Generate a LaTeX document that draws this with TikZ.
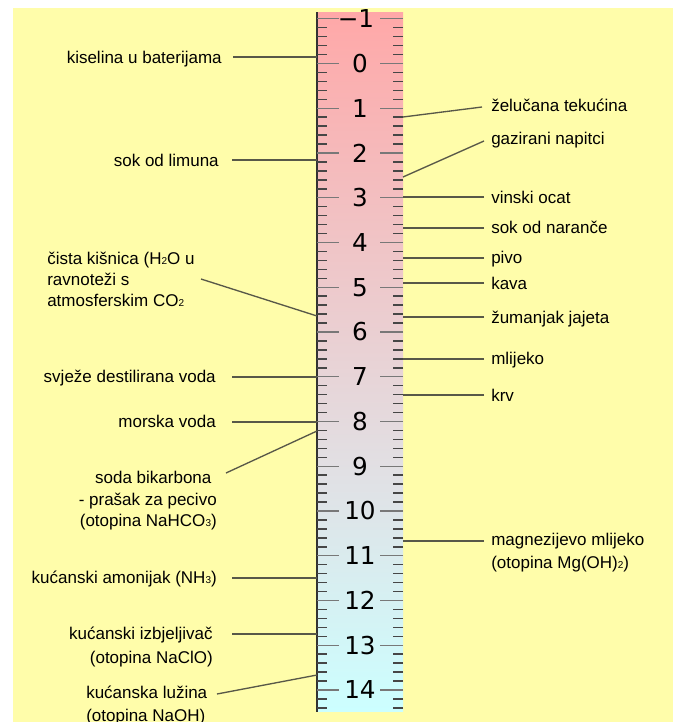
\documentclass[tikz,border=0pt]{standalone}
\usepackage{fontspec}
\setmainfont{Liberation Sans}
\newfontfamily\numfont{DejaVu Sans}
\definecolor{bgyellow}{RGB}{255,253,170}
\definecolor{phpink}{RGB}{255,168,168}
\definecolor{phgray}{RGB}{224,226,230}
\definecolor{phcyan}{RGB}{204,255,255}
\definecolor{leader}{RGB}{88,88,72}
\definecolor{tickmin}{RGB}{70,70,70}
\definecolor{tickmaj}{RGB}{120,120,120}
\pgfdeclareverticalshading{phbar}{100bp}{color(0bp)=(phcyan); color(25bp)=(phcyan); color(41bp)=(phgray); color(75bp)=(phpink); color(100bp)=(phpink)}
\newcommand\sbs[1]{{\fontsize{7.5pt}{7.5pt}\selectfont #1}}
\tikzset{
  lbl/.style={font=\fontsize{12.75pt}{16.5pt}\selectfont, inner sep=0pt, text=black, yshift=-1.5pt},
  num/.style={font=\numfont\fontsize{18.5pt}{20pt}\selectfont, inner sep=0pt, text=black},
  ldr/.style={draw=leader, line width=1pt},
  tmin/.style={draw=tickmin, line width=1.1pt},
  tmaj/.style={draw=tickmaj, line width=1.1pt}
}
\begin{document}
\begin{tikzpicture}[x=0.75pt,y=-0.75pt]
\useasboundingbox (0,0) rectangle (676,722);
\fill[bgyellow] (13,8) rectangle (673,722);
\shade[shading=phbar] (317,12) rectangle (403,711);
\draw[black!80, line width=0.9pt] (317,12) -- (317,712);
% ticks
\foreach \k in {-5,...,72}{
  \pgfmathsetmacro\yy{63.5+8.95*\k}
  \pgfmathtruncatemacro\m{mod(\k+5,5)}
  \ifnum\m=0
    \draw[tmaj] (317,\yy) -- ++(22,0);
    \draw[tmaj] (403,\yy) -- ++(-23,0);
  \else
    \draw[tmin] (317,\yy) -- ++(10,0);
    \draw[tmin] (403,\yy) -- ++(-10,0);
  \fi
}
% numbers
\node[num] (nm1) at (356,18.75) {−1};
\foreach \n in {0,...,14}{
  \node[num] (n\n) at (360,{63.5+44.75*\n}) {\n};
}
% left labels
\node[lbl, anchor=north east] (kis) at (222,49) {kiselina u baterijama};
\node[lbl, anchor=north east] (lim) at (219,152) {sok od limuna};
\node[lbl, anchor=north west, align=left, font=\fontsize{12.75pt}{15.75pt}\selectfont] (kisn) at (47,250) {čista kišnica (H\sbs{2}O u\\ravnoteži s\\atmosferskim CO\sbs{2}};
\node[lbl, anchor=north east] (dest) at (216,368) {svježe destilirana voda};
\node[lbl, anchor=north east] (mor) at (216,413) {morska voda};
\node[lbl, anchor=north east, align=right, font=\fontsize{12.75pt}{16.1pt}\selectfont] (soda) at (217,469) {soda bikarbona\hspace*{4pt}\\- prašak za pecivo\\(otopina NaHCO\sbs{3})};
\node[lbl, anchor=north east] (amon) at (217,569) {kućanski amonijak (NH\sbs{3})};
\node[lbl, anchor=north east, align=right, font=\fontsize{12.75pt}{18pt}\selectfont] (izbj) at (213,625) {kućanski izbjeljivač\\(otopina NaClO)};
\node[lbl, anchor=north west, align=left, font=\fontsize{12.75pt}{17.25pt}\selectfont] (luz) at (86,684) {kućanska lužina\\(otopina NaOH)};
% right labels
\node[lbl, anchor=north west] (zel) at (491,97) {želučana tekućina};
\node[lbl, anchor=north west] (gaz) at (491,130) {gazirani napitci};
\node[lbl, anchor=north west] (ocat) at (491,189) {vinski ocat};
\node[lbl, anchor=north west] (nar) at (491,219) {sok od naranče};
\node[lbl, anchor=north west] (pivo) at (491,249) {pivo};
\node[lbl, anchor=north west] (kava) at (491,275) {kava};
\node[lbl, anchor=north west] (zum) at (491,309) {žumanjak jajeta};
\node[lbl, anchor=north west] (mli) at (491,350) {mlijeko};
\node[lbl, anchor=north west] (krv) at (491,387) {krv};
\node[lbl, anchor=north west, align=left, font=\fontsize{12.75pt}{17.25pt}\selectfont] (mag) at (491,531) {magnezijevo mlijeko\\(otopina Mg(OH)\sbs{2})};
% connector end points
\coordinate (kisS) at (233,57);   \coordinate (kisB) at (317,57);
\coordinate (limS) at (232,160);  \coordinate (limB) at (317,160);
\coordinate (kisnS) at (201,279); \coordinate (kisnB) at (317,316);
\coordinate (destS) at (232,377); \coordinate (destB) at (317,377);
\coordinate (morS) at (232,422);  \coordinate (morB) at (317,422);
\coordinate (sodaS) at (226,473); \coordinate (sodaB) at (317,431);
\coordinate (amonS) at (232,578); \coordinate (amonB) at (317,578);
\coordinate (izbjS) at (232,634); \coordinate (izbjB) at (317,634);
\coordinate (luzS) at (217,694);  \coordinate (luzB) at (317,675);
\coordinate (zelS) at (482,107);  \coordinate (zelB) at (403,117);
\coordinate (gazS) at (484,141);  \coordinate (gazB) at (403,177);
\coordinate (ocatS) at (484,197); \coordinate (ocatB) at (403,197);
\coordinate (narS) at (484,228);  \coordinate (narB) at (403,228);
\coordinate (pivoS) at (484,258); \coordinate (pivoB) at (403,258);
\coordinate (kavaS) at (484,283); \coordinate (kavaB) at (403,283);
\coordinate (zumS) at (484,317);  \coordinate (zumB) at (403,317);
\coordinate (mliS) at (484,359);  \coordinate (mliB) at (403,359);
\coordinate (krvS) at (484,395);  \coordinate (krvB) at (403,395);
\coordinate (magS) at (484,541);  \coordinate (magB) at (403,541);
\foreach \c in {kis,lim,kisn,dest,mor,soda,amon,izbj,luz,zel,gaz,ocat,nar,pivo,kava,zum,mli,krv,mag}{
  \draw[ldr] (\c S) -- (\c B);
}
\end{tikzpicture}
\end{document}
